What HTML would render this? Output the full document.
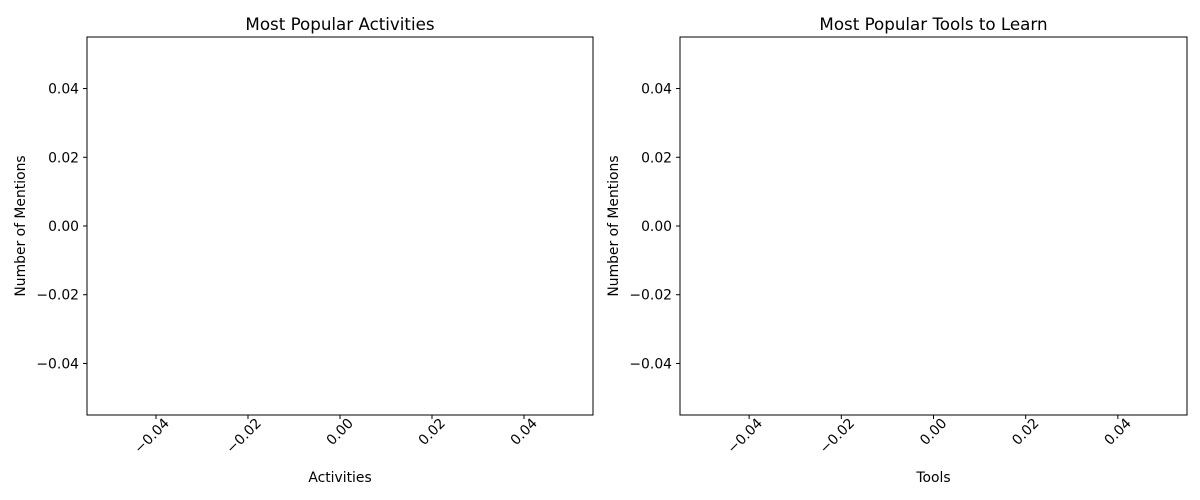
<!DOCTYPE html>
<html><head><meta charset="utf-8"><style>
body{margin:0;background:#fff;}
svg{display:block;font-family:"DejaVu Sans","Liberation Sans",sans-serif;}
</style></head><body>
<svg id="c" width="1200" height="500" viewBox="0 0 1200 500"></svg>
<script>
const activityCategories = [];
const activityValues = [];
const toolCategories = [];
const toolValues = [];
const yTicks = [0.04, 0.02, 0.00, -0.02, -0.04];
const xTicks = [-0.04, -0.02, 0.00, 0.02, 0.04];
const yDomain = [-0.055, 0.055];
const xDomain = [-0.055, 0.055];

const svg = document.getElementById('c');
const NS = 'http://www.w3.org/2000/svg';
function mk(tag, attrs, parent) {
  const e = document.createElementNS(NS, tag);
  for (const k in attrs) e.setAttribute(k, attrs[k]);
  (parent || svg).appendChild(e);
  return e;
}
function fmt(v){ const s = Math.abs(v).toFixed(2); return (v < 0 ? '\u22120' : '0') + s.slice(1); }

const panels = [
  {x0:87, x1:593, title:'Most Popular Activities', xlabel:'Activities', cats:activityCategories, vals:activityValues, key:'activities'},
  {x0:680, x1:1187, title:'Most Popular Tools to Learn', xlabel:'Tools', cats:toolCategories, vals:toolValues, key:'tools'}
];
const y0 = 37, y1 = 415;
panels.forEach(p => {
  const g = mk('g', {});
  
  
  const xs = v => p.x0 + (v - xDomain[0]) / (xDomain[1] - xDomain[0]) * (p.x1 - p.x0);
  const ys = v => y1 - (v - yDomain[0]) / (yDomain[1] - yDomain[0]) * (y1 - y0);
  p.vals.forEach((v, i) => {
    const b = mk('rect', {x: xs(i) - 20, y: ys(v), width: 40, height: ys(0) - ys(v), fill: '#1f77b4'}, g);
    
    
  });
  const frame = mk('rect', {x:p.x0, y:y0, width:p.x1-p.x0, height:y1-y0, fill:'none', stroke:'#000', 'stroke-width':1}, g);
  
  
  yTicks.forEach(v => {
    const y = ys(v);
    mk('line', {x1:p.x0-4, x2:p.x0, y1:y, y2:y, stroke:'#000'}, g);
    const t = mk('text', {x:p.x0-8, y:y+5, 'text-anchor':'end', 'font-size':13.9}, g);
    t.textContent = fmt(v);
    
    
  });
  xTicks.forEach(v => {
    const x = xs(v);
    mk('line', {x1:x, x2:x, y1:y1, y2:y1+4, stroke:'#000'}, g);
    const t = mk('text', {x:x+14, y:424, 'text-anchor':'end', 'font-size':13.9, transform:`rotate(-45 ${x+14} 424)`}, g);
    t.textContent = fmt(v);
    
    
  });
  const tt = mk('text', {x:(p.x0+p.x1)/2, y:30, 'text-anchor':'middle', 'font-size':16.7}, g);
  tt.textContent = p.title;
  
  
  const xl = mk('text', {x:(p.x0+p.x1)/2, y:482, 'text-anchor':'middle', 'font-size':13.9}, g);
  xl.textContent = p.xlabel;
  
  
  const yx = p.x0 - 62, yy = (y0+y1)/2;
  const yl = mk('text', {x:yx, y:yy, 'text-anchor':'middle', 'font-size':13.9, transform:`rotate(-90 ${yx} ${yy})`}, g);
  yl.textContent = 'Number of Mentions';
  
  
});
</script>
</body></html>
